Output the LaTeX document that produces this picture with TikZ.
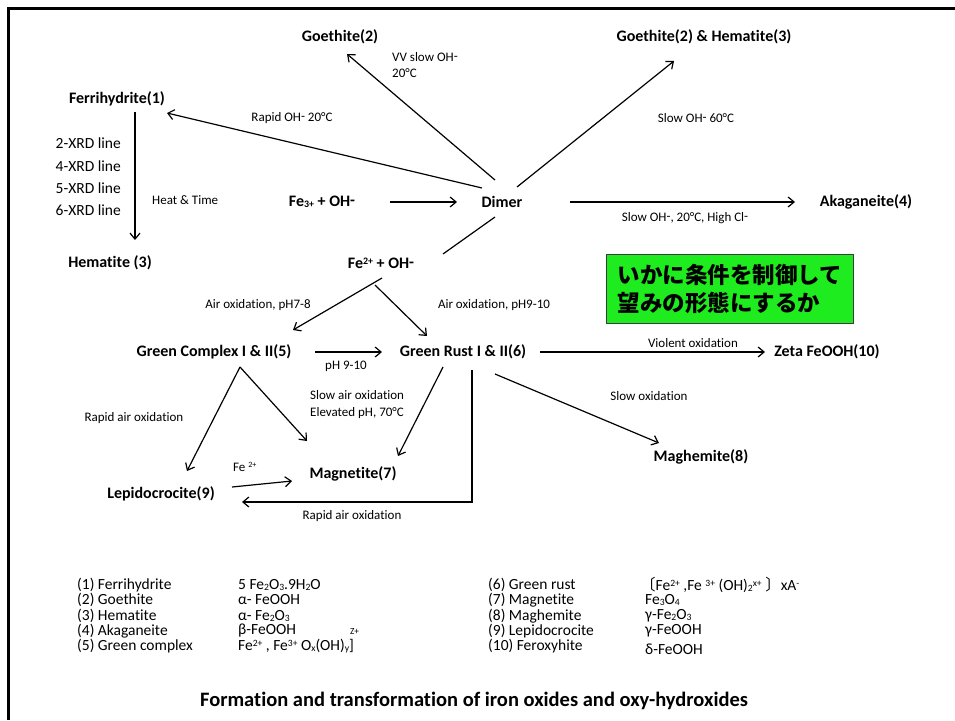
\documentclass[tikz,border=0pt]{standalone}
\usepackage{fontspec}
\usepackage{graphicx}
\setmainfont{Carlito}[Ligatures=NoCommon]
\newfontfamily\jp{Noto Sans CJK JP}
\usetikzlibrary{arrows.meta}

% small raised / lowered characters used in formulas
\newcommand\up[1]{\raisebox{0.55ex}{\scalebox{0.62}{#1}}}
\newcommand\dn[1]{\raisebox{-0.15ex}{\scalebox{0.62}{#1}}}
\newcommand\mn{\raisebox{0.12ex}{-}}

\tikzset{
  species/.style={font=\fontsize{16}{18}\selectfont\bfseries, inner sep=0pt},
  cond/.style={font=\fontsize{13}{16}\selectfont, inner sep=0pt},
  xrd/.style={font=\fontsize{15.5}{22.3}\selectfont, inner sep=0pt, align=right},
  legend/.style={font=\fontsize{15.5}{17}\selectfont, inner sep=0pt, anchor=west},
  arr/.style={line width=1.2pt, -{Straight Barb[length=6pt,width=10pt,line width=1.2pt]}},
  link/.style={line width=1.2pt},
  frame/.style={line width=3pt},
  goalbox/.style={draw={rgb,255:red,60;green,60;blue,60}, line width=1pt,
    fill={rgb,255:red,30;green,236;blue,30}, anchor=north west,
    minimum width=247pt, minimum height=69pt, inner xsep=11pt, inner ysep=0pt,
    text width=225pt, align=left,
    font=\jp\bfseries\fontsize{22.5}{28}\selectfont},
  title/.style={font=\fontsize{20.5}{24}\selectfont\bfseries, inner sep=0pt},
}

\begin{document}
\begin{tikzpicture}[x=1pt,y=-1pt]
\useasboundingbox (0,0) rectangle (955,720);

% frame (top and left edges)
\draw[frame] (8.5,720) -- (8.5,8) -- (955,8);

% species
\node[species] (goe2)   at (340,37)  {Goethite(2)};
\node[species] (goehem) at (704,37)  {Goethite(2) \& Hematite(3)};
\node[species] (ferri)  at (117,99)  {Ferrihydrite(1)};
\node[species] (hem3)   at (110,263) {Hematite (3)};
\node[species] (fe3)    at (322,202) {Fe\dn{3+} + OH\mn};
\node[species] (dimer)  at (502,202) {Dimer};
\node[species] (aka)    at (866,202) {Akaganeite(4)};
\node[species] (fe2)    at (381,263) {Fe\up{2+} + OH\mn};
\node[species] (gc)     at (214,352) {Green Complex I \& II(5)};
\node[species] (gr)     at (463,352) {Green Rust I \& II(6)};
\node[species] (zeta)   at (827,352) {Zeta FeOOH(10)};
\node[species] (mag)    at (353,474) {Magnetite(7)};
\node[species] (lep)    at (161,494) {Lepidocrocite(9)};
\node[species] (maghem) at (701,457) {Maghemite(8)};

% reaction conditions
\node[cond, anchor=west, align=left] (c1) at (392,65) {VV slow OH\mn\\20°C};
\node[cond] (c2) at (292,118) {Rapid OH\mn{} 20°C};
\node[cond] (c3) at (696,118) {Slow OH\mn{} 60°C};
\node[xrd, anchor=east] (xrd) at (121,177) {2-XRD line\\4-XRD line\\5-XRD line\\6-XRD line};
\node[cond, anchor=west] (c4) at (152,200) {Heat \& Time};
\node[cond] (c5) at (685,218) {Slow OH\mn, 20°C, High Cl\mn};
\node[cond] (c6) at (258,305) {Air oxidation, pH7-8};
\node[cond] (c7) at (494,305) {Air oxidation, pH9-10};
\node[cond] (c8) at (346,366) {pH 9-10};
\node[cond] (c9) at (693,343) {Violent oxidation};
\node[cond] (c10) at (134,418) {Rapid air oxidation};
\node[cond, anchor=west, align=left, font=\fontsize{13}{17}\selectfont] (c11) at (310,404.5) {Slow air oxidation\\Elevated pH, 70°C};
\node[cond, anchor=west] (c12) at (233,467) {Fe \up{2+}};
\node[cond] (c13) at (352,516) {Rapid air oxidation};
\node[cond] (c14) at (649,396) {Slow oxidation};

% highlighted note
\node[goalbox] (goal) at (606,254) {いかに条件を制御して\\望みの形態にするか};

% connectors
\draw[arr]  ([shift={(18,13)}]ferri.center) -- ([shift={(25,-23)}]hem3.center);
\draw[arr]  ([shift={(68,0)}]fe3.center) -- ([shift={(-45,0)}]dimer.center);
\draw[arr]  ([shift={(-20,-14)}]dimer.center) -- ([shift={(50,14)}]ferri.center);
\draw[arr]  ([shift={(-7,-22)}]dimer.center) -- ([shift={(7,17)}]goe2.center);
\draw[arr]  ([shift={(15,-15)}]dimer.center) -- ([shift={(-30,24)}]goehem.center);
\draw[arr]  ([shift={(68,0)}]dimer.center) -- ([shift={(-71,0)}]aka.center);
\draw[link] ([shift={(62,-9)}]fe2.center) -- ([shift={(-7,15)}]dimer.center);
\draw[arr]  ([shift={(1,15)}]fe2.center) -- ([shift={(79,-22)}]gc.center);
\draw[arr]  ([shift={(-6,22)}]fe2.center) -- ([shift={(-36,-16)}]gr.center);
\draw[arr]  ([shift={(101,0)}]gc.center) -- ([shift={(-81,0)}]gr.center);
\draw[arr]  ([shift={(77,0)}]gr.center) -- ([shift={(-62,0)}]zeta.center);
\draw[arr]  ([shift={(26,15)}]gc.center) -- ([shift={(26,-23)}]lep.center);
\draw[arr]  ([shift={(26,15)}]gc.center) -- ([shift={(-46,-33)}]mag.center);
\draw[arr]  ([shift={(-20,15)}]gr.center) -- ([shift={(45,-18)}]mag.center);
\draw[arr]  ([shift={(9,18)}]gr.center) |- ([shift={(81,8)}]lep.center);
\draw[arr]  ([shift={(71,-7)}]lep.center) -- ([shift={(-61,7)}]mag.center);
\draw[arr]  ([shift={(32,22)}]gr.center) -- ([shift={(-42,-14)}]maghem.center);

% legend, left half
\node[legend] (l1) at (77,585) {(1) Ferrihydrite};
\node[legend] (l2) at (77,600) {(2) Goethite};
\node[legend] (l3) at (77,616) {(3) Hematite};
\node[legend] (l4) at (77,631) {(4) Akaganeite};
\node[legend] (l5) at (77,646) {(5) Green complex};
\node[legend] (f1) at (238,585) {5 Fe\dn{2}O\dn{3}.9H\dn{2}O};
\node[legend] (f2) at (238,600) {α- FeOOH};
\node[legend] (f3) at (238,616) {α- Fe\dn{2}O\dn{3}};
\node[legend] (f4) at (238,631) {β-FeOOH};
\node[legend] (f5) at (238,646) {Fe\up{2+} , Fe\up{3+} O\dn{x}(OH)\dn{y}]\hspace{-0.25em}\smash{\raisebox{1.0em}{\scalebox{0.6}{Z+}}}};

% legend, right half
\node[legend] (l6) at (488,585) {(6) Green rust};
\node[legend] (l7) at (488,600) {(7) Magnetite};
\node[legend] (l8) at (488,616) {(8) Maghemite};
\node[legend] (l9) at (488,631) {(9) Lepidocrocite};
\node[legend] (l10) at (488,646) {(10) Feroxyhite};
\node[legend] (f6) at (640,585) {{\jp 〔}Fe\up{2+} ,Fe \up{3+} (OH)\dn{2}\up{x+} {\jp 〕}xA\up{-}};
\node[legend] (f7) at (645,600) {Fe\dn{3}O\dn{4}};
\node[legend] (f8) at (645,616) {γ-Fe\dn{2}O\dn{3}};
\node[legend] (f9) at (645,631) {γ-FeOOH};
\node[legend] (f10) at (645,649) {δ-FeOOH};

% caption
\node[title] (cap) at (474,701) {Formation and transformation of iron oxides and oxy-hydroxides};
\end{tikzpicture}
\end{document}
